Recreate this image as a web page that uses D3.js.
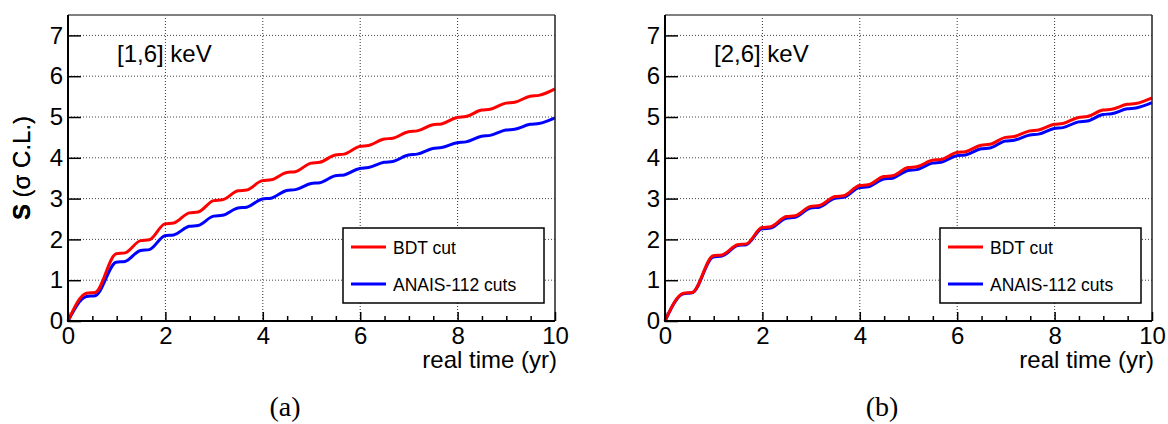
<!DOCTYPE html>
<html>
<head>
<meta charset="utf-8">
<script src="https://cdn.jsdelivr.net/npm/d3@7"></script>
<style>
	body { margin: 0; background: #fff; }
	svg text { font-family: "Liberation Sans", Arial, Helvetica, sans-serif; fill: #000; }
	.caption { font-family: "Liberation Serif", "Times New Roman", serif; }
</style>
</head>
<body>
<div id="chart"></div>
<script>

// time points (yr): plateau start / end of each half-year step
var time = [0, 0.38, 0.56, 0.99, 1.17, 1.49, 1.67, 1.99, 2.17, 2.49, 2.67, 2.99, 3.17, 3.49, 3.67, 3.99, 4.17, 4.49, 4.67, 4.99, 5.17, 5.49, 5.67, 5.99, 6.17, 6.49, 6.67, 6.99, 7.17, 7.49, 7.67, 7.99, 8.17, 8.49, 8.67, 8.99, 9.17, 9.49, 9.67, 10]

// [1,6] keV
var bdt16 = [0, 0.68, 0.70, 1.65, 1.67, 1.97, 1.99, 2.38, 2.40, 2.65, 2.67, 2.95, 2.97, 3.19, 3.21, 3.44, 3.46, 3.64, 3.66, 3.87, 3.89, 4.07, 4.09, 4.28, 4.30, 4.46, 4.48, 4.64, 4.66, 4.81, 4.83, 4.99, 5.01, 5.17, 5.19, 5.34, 5.36, 5.51, 5.53, 5.69]
var anais16 = [0, 0.60, 0.62, 1.44, 1.46, 1.73, 1.75, 2.09, 2.11, 2.32, 2.34, 2.57, 2.59, 2.77, 2.79, 2.99, 3.01, 3.20, 3.22, 3.37, 3.39, 3.56, 3.58, 3.74, 3.76, 3.89, 3.91, 4.07, 4.09, 4.23, 4.25, 4.37, 4.39, 4.53, 4.55, 4.68, 4.70, 4.82, 4.84, 4.98]

// [2,6] keV
var bdt26 = [0, 0.68, 0.70, 1.60, 1.62, 1.87, 1.89, 2.29, 2.31, 2.56, 2.58, 2.81, 2.83, 3.05, 3.07, 3.32, 3.34, 3.54, 3.56, 3.76, 3.78, 3.94, 3.96, 4.13, 4.15, 4.31, 4.33, 4.50, 4.52, 4.66, 4.68, 4.82, 4.84, 4.99, 5.01, 5.17, 5.19, 5.31, 5.33, 5.47]
var anais26 = [0, 0.67, 0.69, 1.57, 1.59, 1.85, 1.87, 2.26, 2.28, 2.52, 2.54, 2.77, 2.79, 3.01, 3.03, 3.27, 3.29, 3.48, 3.50, 3.69, 3.71, 3.87, 3.89, 4.05, 4.07, 4.22, 4.24, 4.41, 4.43, 4.56, 4.58, 4.72, 4.74, 4.88, 4.90, 5.06, 5.08, 5.20, 5.22, 5.35]

var xTicks = [0, 2, 4, 6, 8, 10]
var xMinorTicks = [0.5, 1, 1.5, 2.5, 3, 3.5, 4.5, 5, 5.5, 6.5, 7, 7.5, 8.5, 9, 9.5]
var yTicks = [0, 1, 2, 3, 4, 5, 6, 7]
var legendLabels = ["BDT cut", "ANAIS-112 cuts"]
var panelLabels = ["[1,6] keV", "[2,6] keV"]
var captions = ["(a)", "(b)"]

var red = "#ff0000"
var blue = "#0000ff"

var svg = d3.select("#chart").append("svg")
	.attr("width", 1168)
	.attr("height", 424)

var width = 487
var height = 306
var marginTop = 15

function drawPanel(left, redData, blueData, label, caption) {

	var x = d3.scaleLinear().domain([0, 10]).range([0, width])
	var y = d3.scaleLinear().domain([0, 7.5]).range([height, 0])

	var g = svg.append("g").attr("transform", "translate(" + left + "," + marginTop + ")")

	// grid
	g.selectAll(".vgrid")
		.data(xTicks.filter(function(d) { return d > 0 && d < 10 }))
		.enter().append("line")
		.attr("x1", function(d) { return x(d) })
		.attr("x2", function(d) { return x(d) })
		.attr("y1", 0)
		.attr("y2", height)
		.attr("stroke", "#333")
		.attr("stroke-width", 1)
		.attr("stroke-dasharray", "1,2")

	g.selectAll(".hgrid")
		.data(yTicks.filter(function(d) { return d > 0 }))
		.enter().append("line")
		.attr("x1", 0)
		.attr("x2", width)
		.attr("y1", function(d) { return y(d) })
		.attr("y2", function(d) { return y(d) })
		.attr("stroke", "#444")
		.attr("stroke-width", 1)
		.attr("stroke-dasharray", "1,2")

	var line = d3.line()
		.x(function(d, i) { return x(time[i]) })
		.y(function(d) { return y(d) })
		.curve(d3.curveMonotoneX)

	g.append("path").datum(blueData)
		.attr("d", line)
		.attr("fill", "none")
		.attr("stroke", blue)
		.attr("stroke-width", 3)

	g.append("path").datum(redData)
		.attr("d", line)
		.attr("fill", "none")
		.attr("stroke", red)
		.attr("stroke-width", 3)

	// frame
	g.append("line").attr("x1", 0).attr("x2", width).attr("y1", 0).attr("y2", 0)
		.attr("stroke", "#808080").attr("stroke-width", 2)
	g.append("line").attr("x1", width).attr("x2", width).attr("y1", 0).attr("y2", height)
		.attr("stroke", "#222").attr("stroke-width", 1.5)

	// axes
	var xMinor = d3.axisBottom(x).tickValues(xMinorTicks).tickSize(-5).tickFormat("")
	var xAxis = d3.axisBottom(x).tickValues(xTicks).tickSize(-9).tickPadding(6).tickFormat(d3.format("d"))
	var yAxis = d3.axisLeft(y).tickValues(yTicks).tickSize(-13).tickPadding(5).tickFormat(d3.format("d"))

	var gx1 = g.append("g").attr("transform", "translate(0," + height + ")").call(xMinor)
	var gx2 = g.append("g").attr("transform", "translate(0," + height + ")").call(xAxis)
	var gy = g.append("g").call(yAxis);

	[gx1, gx2, gy].forEach(function(a) {
		a.select(".domain").remove()
		a.selectAll(".tick line").attr("stroke", "#000").attr("stroke-width", 1.5)
		a.selectAll(".tick text")
			.attr("font-size", 24)
			.attr("font-family", "Liberation Sans, Arial, sans-serif")
	})

	g.append("line").attr("x1", 0).attr("x2", 0).attr("y1", 0).attr("y2", height + 1)
		.attr("stroke", "#000").attr("stroke-width", 2)
	g.append("line").attr("x1", -1).attr("x2", width).attr("y1", height).attr("y2", height)
		.attr("stroke", "#000").attr("stroke-width", 2)

	// axis titles
	g.append("text")
		.attr("x", width + 2)
		.attr("y", 353)
		.attr("text-anchor", "end")
		.attr("font-size", 24)
		.text("real time (yr)")

	var yt = g.append("text")
		.attr("transform", "translate(" + (30 - left) + "," + (height / 2) + ") rotate(-90)")
		.attr("text-anchor", "middle")
		.attr("font-size", 24)
	yt.append("tspan").attr("font-weight", "bold").text("S")
	yt.append("tspan").text(" (σ C.L.)")

	// energy window label
	g.append("text")
		.attr("x", 49)
		.attr("y", 47)
		.attr("font-size", 24)
		.text(label)

	// legend
	var lg = g.append("g").attr("transform", "translate(275,213)")
	lg.append("rect")
		.attr("width", 201)
		.attr("height", 75)
		.attr("fill", "#fff")
		.attr("stroke", "#000")
		.attr("stroke-width", 1.5)

	var colors = [red, blue]
	legendLabels.forEach(function(d, i) {
		var ly = 19 + i * 37
		lg.append("line")
			.attr("x1", 8).attr("x2", 43)
			.attr("y1", ly).attr("y2", ly)
			.attr("stroke", colors[i])
			.attr("stroke-width", 3)
		lg.append("text")
			.attr("x", 50)
			.attr("y", ly + 7)
			.attr("font-size", 17.5)
			.text(d)
	})

	// sub caption
	svg.append("text")
		.attr("class", "caption")
		.attr("x", left + 217)
		.attr("y", 416)
		.attr("text-anchor", "middle")
		.attr("font-size", 28)
		.text(caption)
}

drawPanel(68, bdt16, anais16, panelLabels[0], captions[0])
drawPanel(665, bdt26, anais26, panelLabels[1], captions[1])

</script>
</body>
</html>
